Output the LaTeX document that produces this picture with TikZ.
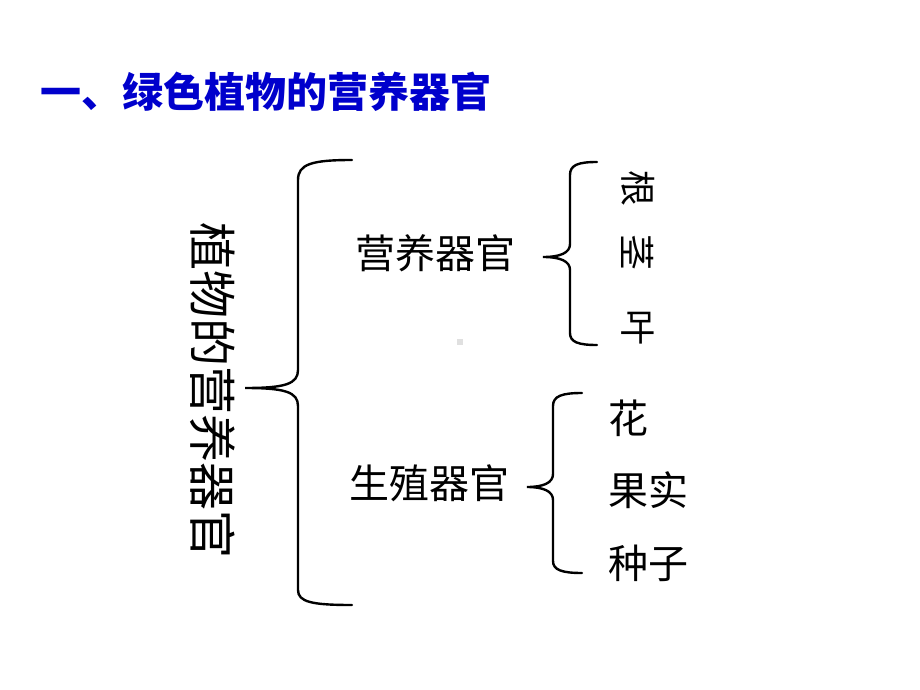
\documentclass[tikz,border=0pt]{standalone}
\usepackage{fontspec}
\newfontfamily\cjk{Noto Sans CJK SC}
\definecolor{titleblue}{RGB}{0,0,204}
\definecolor{dotgrey}{RGB}{224,224,224}
\begin{document}
\begin{tikzpicture}[x=1pt,y=-1pt,
  brace/.style={line width=2.4pt,black,line cap=round},
  lbl/.style={inner sep=0pt,font=\cjk\fontsize{40}{40}\selectfont},
  rot/.style={inner sep=0pt,rotate=-90,font=\cjk\fontsize{36}{36}\selectfont}]
\useasboundingbox (0,0) rectangle (920,690);
% title
\node[anchor=west,inner sep=0pt,text=titleblue,font=\cjk\bfseries\fontsize{41}{41}\selectfont] (title) at (40,92) {一、绿色植物的营养器官};
% left vertical text
\node[inner sep=0pt,rotate=-90,font=\cjk\fontsize{48}{48}\selectfont] (main) at (213,390) {植物的营养器官};
% big brace
\coordinate (b1tip) at (245,388);
\draw[brace] (352,160) .. controls (312,160) and (298,164) .. (298,180)
  -- (298,370) .. controls (298,384) and (285,388) .. (b1tip)
  .. controls (285,388) and (298,392) .. (298,406)
  -- (298,590) .. controls (298,602) and (312,605) .. (352,605);
% labels
\node[lbl] (veg) at (435,253) {营养器官};
\node[lbl] (rep) at (429,483) {生殖器官};
% brace 2
\coordinate (b2tip) at (543,257);
\draw[brace] (597,162) .. controls (578,162) and (570,165) .. (570,175)
  -- (570,244) .. controls (570,253) and (560,257) .. (b2tip)
  .. controls (560,257) and (570,261) .. (570,270)
  -- (570,333) .. controls (570,342) and (578,345) .. (597,345);
\node[rot] (gen) at (638,188) {根};
\node[rot] (jing) at (638,252) {茎};
\node[rot] (ye) at (638,327) {叶};
% brace 3
\coordinate (b3tip) at (527,487);
\draw[brace] (582,393) .. controls (562,393) and (553,396) .. (553,406)
  -- (553,474) .. controls (553,483) and (543,487) .. (b3tip)
  .. controls (543,487) and (553,491) .. (553,500)
  -- (553,561) .. controls (553,570) and (562,573) .. (582,573);
\node[lbl] (hua) at (628,418) {花};
\node[lbl] (guo) at (648,490) {果实};
\node[lbl] (zhong) at (648,563) {种子};
% small grey dot
\fill[dotgrey] (457,339) rectangle (463,345);
\end{tikzpicture}
\end{document}
